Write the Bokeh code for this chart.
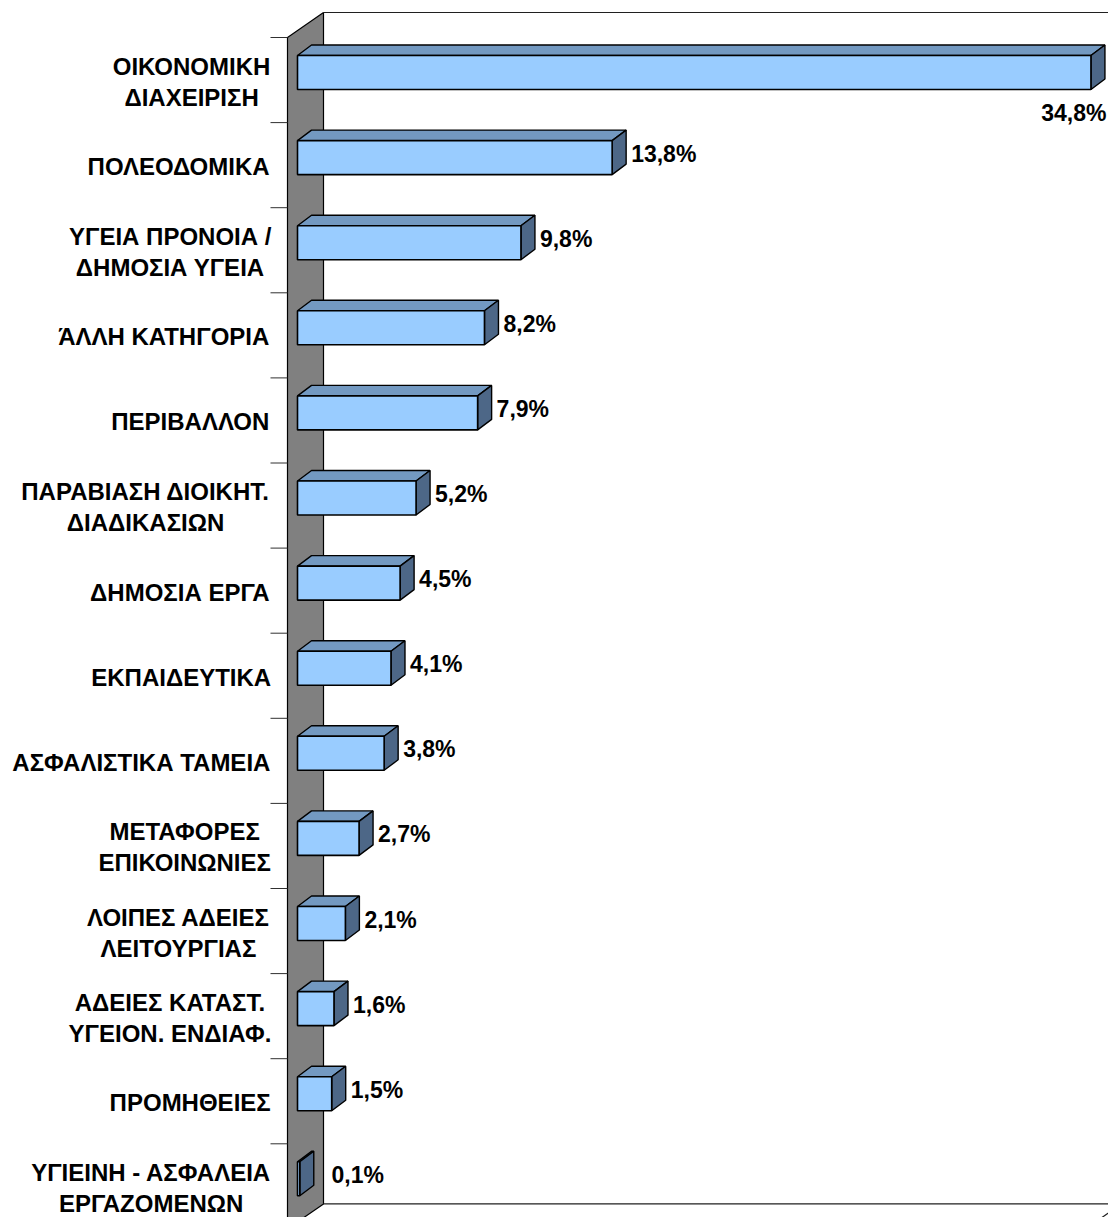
from bokeh.plotting import figure
from bokeh.models import Range1d, ColumnDataSource
from bokeh.embed import file_html
from bokeh.resources import INLINE
from bokeh.core.properties import value

# ---------------- data ----------------
categories = [
    "ΟΙΚΟΝΟΜΙΚΗ\nΔΙΑΧΕΙΡΙΣΗ",
    "ΠΟΛΕΟΔΟΜΙΚΑ",
    "ΥΓΕΙΑ ΠΡΟΝΟΙΑ /\nΔΗΜΟΣΙΑ ΥΓΕΙΑ",
    "ΆΛΛΗ ΚΑΤΗΓΟΡΙΑ",
    "ΠΕΡΙΒΑΛΛΟΝ",
    "ΠΑΡΑΒΙΑΣΗ ΔΙΟΙΚΗΤ.\nΔΙΑΔΙΚΑΣΙΩΝ",
    "ΔΗΜΟΣΙΑ ΕΡΓΑ",
    "ΕΚΠΑΙΔΕΥΤΙΚΑ",
    "ΑΣΦΑΛΙΣΤΙΚΑ ΤΑΜΕΙΑ",
    "ΜΕΤΑΦΟΡΕΣ\nΕΠΙΚΟΙΝΩΝΙΕΣ",
    "ΛΟΙΠΕΣ ΑΔΕΙΕΣ\nΛΕΙΤΟΥΡΓΙΑΣ",
    "ΑΔΕΙΕΣ ΚΑΤΑΣΤ.\nΥΓΕΙΟΝ. ΕΝΔΙΑΦ.",
    "ΠΡΟΜΗΘΕΙΕΣ",
    "ΥΓΙΕΙΝΗ - ΑΣΦΑΛΕΙΑ\nΕΡΓΑΖΟΜΕΝΩΝ",
]
values = [34.8, 13.8, 9.8, 8.2, 7.9, 5.2, 4.5, 4.1, 3.8, 2.7, 2.1, 1.6, 1.5, 0.1]
value_labels = [f"{v:.1f}".replace(".", ",") + "%" for v in values]
x_axis_max = 35

# ---------------- layout (pixels) ----------------
W, H = 1108, 1217
SX = 22.8          # px per percent
SY = 85.1          # px per category band
X0 = 297           # canvas px of bar zero
Y0 = 37            # canvas px of top of first band
n = len(categories)

def px(dx):
    return dx / SX

def py(dy):
    return dy / SY

FONT = value("Liberation Sans")
CAT_FS = 24
VAL_FS = 23

x_lo, x_hi = -X0 / SX, (W - X0) / SX
p = figure(width=W, height=H, output_backend="svg", toolbar_location=None,
           x_axis_type=None, y_axis_type=None, min_border=0,
           x_range=Range1d(x_lo, x_hi),
           y_range=Range1d((H - Y0) / SY, -Y0 / SY))
p.grid.visible = False
p.outline_line_color = None
p.background_fill_color = "white"
p.border_fill_color = "white"

# wall geometry: front plane 10px left of bars, back plane 26px right; depth rise 25px
wf = px(-10)
wb = px(26)
wdy = py(-25)

# gray side wall
p.patch([wf, wb, wb, wf], [0, wdy, n + wdy, n], fill_color="#808080",
        line_color="black", line_width=1.2)
# back wall edges and floor
xr_back = x_axis_max + wb
xr_front = x_axis_max + wf
p.line([wb, xr_back, xr_back], [wdy, wdy, n + wdy], line_color="#202020", line_width=1.2)
p.line([wb, xr_back], [n + wdy, n + wdy], line_color="#202020", line_width=1.2)
p.line([xr_back, xr_front, wf], [n + wdy, n, n], line_color="#202020", line_width=1.2)

# category ticks
tick_y = list(range(n + 1))
p.segment(x0=[px(-27)] * (n + 1), y0=tick_y, x1=[wf] * (n + 1), y1=tick_y,
          line_color="#303030", line_width=1)

# ---------------- bars ----------------
ddx = px(14)
ddy = py(-10.5)
top_off = py(18)
bot_off = py(52)
front_src = ColumnDataSource(dict(
    left=[0] * n, right=values,
    top=[i + top_off for i in range(n)],
    bottom=[i + bot_off for i in range(n)]))
top_xs, top_ys, side_xs, side_ys = [], [], [], []
for i, v in enumerate(values):
    yt = i + top_off
    yb = i + bot_off
    top_xs.append([0, v, v + ddx, ddx])
    top_ys.append([yt, yt, yt + ddy, yt + ddy])
    side_xs.append([v, v + ddx, v + ddx, v])
    side_ys.append([yt, yt + ddy, yb + ddy, yb])
p.patches(top_xs, top_ys, fill_color="#7399C1", line_color="black", line_width=1.4)
p.patches(side_xs, side_ys, fill_color="#4D6787", line_color="black", line_width=1.4)
p.quad(left="left", right="right", top="top", bottom="bottom", source=front_src,
       fill_color="#99CCFF", line_color="black", line_width=1.6)

# ---------------- value labels ----------------
xl, yl, tl, al = [], [], [], []
for i, (v, t) in enumerate(zip(values, value_labels)):
    end = v + ddx
    if end + px(5 + 70) > x_hi:
        xl.append(min(end + px(8), x_hi - px(2))); yl.append(i + py(75)); al.append("right")
    else:
        xl.append(max(end + px(5), px(34))); yl.append(i + py(31)); al.append("left")
    tl.append(t)
p.text(x=xl, y=yl, text=tl, text_align=al, text_baseline="middle",
       text_font=FONT, text_font_style="bold", text_font_size=f"{VAL_FS}px",
       text_color="black")

# ---------------- category labels ----------------
CW = {'Α': 722, 'Ά': 722, 'Β': 722, 'Γ': 611, 'Δ': 722, 'Ε': 667, 'Ζ': 611,
      'Η': 722, 'Θ': 778, 'Ι': 278, 'Κ': 722, 'Λ': 722, 'Μ': 833, 'Ν': 722,
      'Ξ': 667, 'Ο': 778, 'Π': 722, 'Ρ': 667, 'Σ': 618, 'Τ': 611, 'Υ': 667,
      'Φ': 800, 'Χ': 667, 'Ψ': 835, 'Ω': 750, ' ': 278, '.': 278, '/': 278, '-': 333}

def tw(s):
    return sum(CW.get(c, 667) for c in s) / 1000 * CAT_FS * 0.97

cx, cy, ct = [], [], []
RIGHT = 268 - X0  # right edge of label block in px relative to zero
for i, cat in enumerate(categories):
    lines = cat.split("\n")
    bw = max(tw(s) for s in lines)
    center = px(RIGHT - bw / 2)
    for k, s in enumerate(lines):
        cx.append(center)
        cy.append(i + py(44 + (k - (len(lines) - 1) / 2) * 31))
        ct.append(s)
p.text(x=cx, y=cy, text=ct, text_align="center", text_baseline="middle",
       text_font=FONT, text_font_style="bold", text_font_size=f"{CAT_FS}px",
       text_color="black")

open("out.html", "w").write(file_html(p, INLINE))
